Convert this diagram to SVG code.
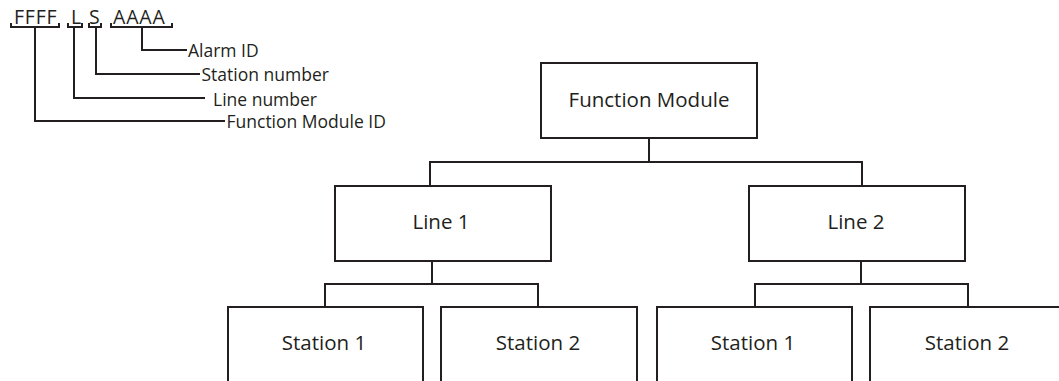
<svg xmlns="http://www.w3.org/2000/svg" width="1059" height="381" viewBox="0 0 1059 381">
<style>
.box{fill:#fff;stroke:#231f20;stroke-width:2}
.ln{fill:none;stroke:#231f20;stroke-width:2}
.t{font-family:"Open Sans","Noto Sans",sans-serif;font-size:20.5px;fill:#231f20;text-anchor:middle}
.s{font-family:"Open Sans","Noto Sans",sans-serif;font-size:17.5px;fill:#231f20}
.c{font-family:"Open Sans","Noto Sans",sans-serif;font-size:19.5px;fill:#231f20;letter-spacing:0.8px}
</style>
<rect width="1059" height="381" fill="#fff"/>
<g id="legend">
<text class="c" x="14" y="24">FFFF</text>
<text class="c" x="71" y="24">L</text>
<text class="c" x="89" y="24">S</text>
<text class="c" x="113" y="24">AAAA</text>
<path class="ln" d="M11 23V27H59V23M68 23V27H82V23M89 23V27H101V23M111 23V27H172V23"/>
<path class="ln" d="M142 27V50H187M96 27V74H200M74 27V98H205M35 27V121H225"/>
<text class="s" x="188" y="56.5">Alarm ID</text>
<text class="s" x="201.5" y="81">Station number</text>
<text class="s" x="213" y="105.5">Line number</text>
<text class="s" x="226.5" y="128">Function Module ID</text>
</g>
<g id="connectors">
<path class="ln" d="M649 138V162M430 186V162H862V186"/>
<path class="ln" d="M432 261V284M325 307V284H538V307"/>
<path class="ln" d="M861 261V284M755 307V284H968V307"/>
</g>
<g id="fm"><rect class="box" x="541" y="63" width="216" height="75"/><text class="t" x="649" y="107">Function Module</text></g>
<g id="line1"><rect class="box" x="335" y="186" width="216" height="75"/><text class="t" x="441" y="229">Line 1</text></g>
<g id="line2"><rect class="box" x="749" y="186" width="216" height="75"/><text class="t" x="856" y="229">Line 2</text></g>
<g id="l1s1"><rect class="box" x="228" y="307" width="195" height="100"/><text class="t" x="324" y="350">Station 1</text></g>
<g id="l1s2"><rect class="box" x="441" y="307" width="196" height="100"/><text class="t" x="538" y="350">Station 2</text></g>
<g id="l2s1"><rect class="box" x="657" y="307" width="195" height="100"/><text class="t" x="753" y="350">Station 1</text></g>
<g id="l2s2"><rect class="box" x="870" y="307" width="195" height="100"/><text class="t" x="967" y="350">Station 2</text></g>
</svg>
